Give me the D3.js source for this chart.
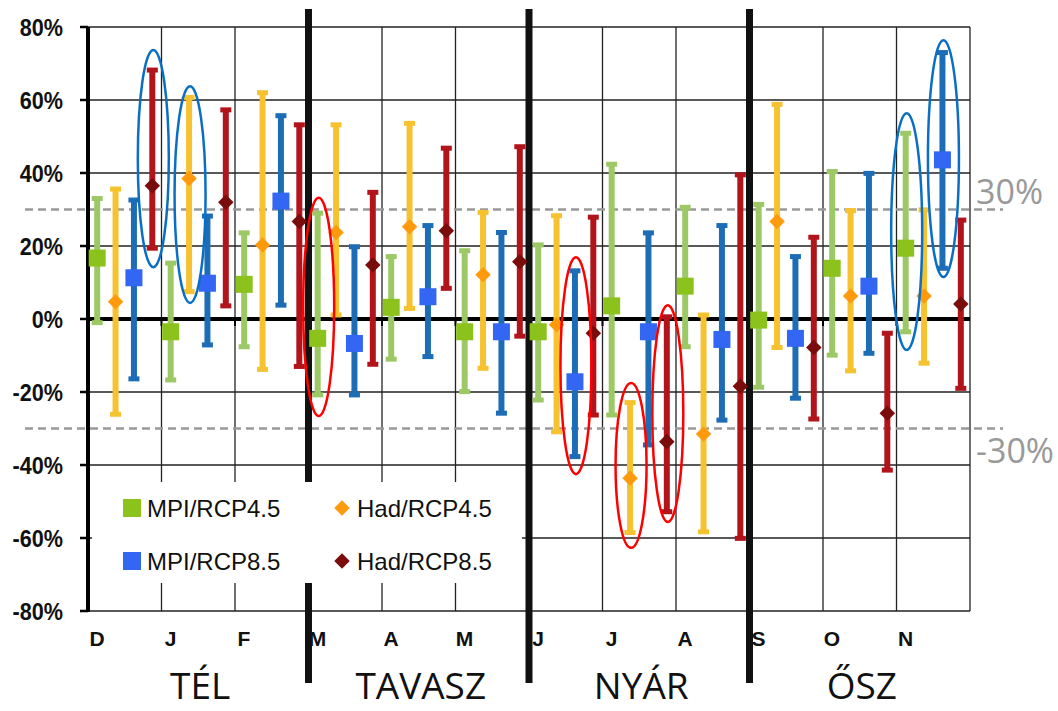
<!DOCTYPE html>
<html>
<head>
<meta charset="utf-8">
<script src="https://cdn.jsdelivr.net/npm/d3@7"></script>
<style>
  body { margin: 0; background: #fff; }
  svg { display: block; }
</style>
</head>
<body>
<svg id="chart"></svg>
<script>
const width = 1058;
const height = 711;

// month categories and seasons
const months = ['D', 'J', 'F', 'M', 'A', 'M', 'J', 'J', 'A', 'S', 'O', 'N'];
const seasons = ['TÉL', 'TAVASZ', 'NYÁR', 'ŐSZ'];
const yTicks = [80, 60, 40, 20, 0, -20, -40, -60, -80];
const thresholds = [30, -30];

// series (%)
const seriesNames = ['MPI/RCP4.5', 'Had/RCP4.5', 'MPI/RCP8.5', 'Had/RCP8.5'];

const mpi45Mid  = [16.7, -3.5, 9.5, -5.3, 3.2, -3.5, -3.5, 3.6, 9.0, -0.3, 13.9, 19.4];
const mpi45Low  = [-1.0, -16.7, -7.6, -20.8, -11.0, -19.9, -22.2, -26.3, -7.6, -18.7, -9.9, -3.5];
const mpi45High = [33.0, 15.3, 23.6, 29.0, 17.1, 18.7, 20.3, 42.4, 30.6, 31.4, 40.4, 50.9];

const had45Mid  = [4.7, 38.5, 20.3, 23.7, 25.3, 12.1, -1.6, -43.6, -31.5, 26.7, 6.3, 6.3];
const had45Low  = [-26.1, 7.5, -13.8, 1.1, 2.9, -13.5, -30.9, -58.5, -58.3, -7.8, -14.2, -12.1];
const had45High = [35.6, 60.7, 62.0, 53.2, 53.6, 29.2, 28.3, -22.9, 1.1, 58.8, 29.7, 29.9];

const mpi85Mid  = [11.3, 9.8, 32.3, -6.7, 6.1, -3.5, -17.2, -3.5, -5.6, -5.3, 9.0, 43.6];
const mpi85Low  = [-16.4, -7.1, 3.8, -20.8, -10.3, -25.8, -37.7, -34.5, -27.7, -21.7, -9.4, 13.9];
const mpi85High = [32.6, 28.2, 55.7, 19.8, 25.6, 23.7, 13.2, 23.6, 25.6, 17.1, 39.9, 73.0];

const had85Mid  = [36.5, 32.0, 26.7, 14.8, 24.2, 15.7, -3.9, -33.6, -18.4, -7.8, -25.8, 4.1];
const had85Low  = [19.4, 3.6, -13.0, -12.4, 8.4, -4.7, -26.3, -52.8, -60.1, -27.4, -41.4, -19.0];
const had85High = [68.2, 57.3, 53.2, 34.7, 46.8, 47.2, 27.9, 0.6, 39.5, 22.4, -3.9, 27.1];

// highlighted ranges (month index, series index, top %, bottom %, kind)
const highlightMonth  = [0, 1, 11, 11, 3, 6, 7, 7];
const highlightSeries = [3, 1, 0, 2, 0, 2, 1, 3];
const highlightTop    = [73.7, 63.8, 56.4, 76.4, 33.2, 16.9, -17.5, 3.8];
const highlightBottom = [14.2, 4.4, -8.5, 11.5, -26.6, -42.5, -62.7, -55.6];
const highlightKind   = ['blue', 'blue', 'blue', 'blue', 'red', 'red', 'red', 'red'];

const series = [
  {name: seriesNames[0], mid: mpi45Mid, low: mpi45Low, high: mpi45High, bar: '#9cc965', mark: '#8cc21c', shape: 'square'},
  {name: seriesNames[1], mid: had45Mid, low: had45Low, high: had45High, bar: '#f6c22f', mark: '#ff9a0c', shape: 'diamond'},
  {name: seriesNames[2], mid: mpi85Mid, low: mpi85Low, high: mpi85High, bar: '#1c6db5', mark: '#3366f2', shape: 'square'},
  {name: seriesNames[3], mid: had85Mid, low: had85Low, high: had85High, bar: '#b2141c', mark: '#7a0c0c', shape: 'diamond'}
];

const plotLeft = 88, plotRight = 970, plotTop = 27, plotBottom = 611;

const svg = d3.select('#chart').attr('width', width).attr('height', height);

const x = d3.scaleBand().domain(d3.range(months.length)).range([plotLeft, plotRight]);
const sub = d3.scaleBand().domain(d3.range(series.length)).range([0, x.bandwidth()]);
const y = d3.scaleLinear().domain([-80, 80]).range([plotBottom, plotTop]);
const seasonX = d3.scaleBand().domain(d3.range(seasons.length)).range([plotLeft, plotRight]);

const cx = (m, s) => x(m) + sub(s) + sub.bandwidth() / 2;

// grid
svg.append('g')
  .selectAll('line')
  .data(yTicks)
  .enter()
  .append('line')
  .attr('x1', plotLeft).attr('x2', plotRight)
  .attr('y1', d => y(d)).attr('y2', d => y(d))
  .attr('stroke', '#222').attr('stroke-width', 1.3);

svg.append('g')
  .selectAll('line')
  .data(d3.range(1, months.length + 1))
  .enter()
  .append('line')
  .attr('x1', d => x(0) + d * x.bandwidth()).attr('x2', d => x(0) + d * x.bandwidth())
  .attr('y1', plotTop).attr('y2', plotBottom)
  .attr('stroke', '#222').attr('stroke-width', 1.3);

// y axis ticks + labels
svg.append('g')
  .selectAll('line')
  .data(yTicks)
  .enter()
  .append('line')
  .attr('x1', plotLeft - 8).attr('x2', plotLeft)
  .attr('y1', d => y(d)).attr('y2', d => y(d))
  .attr('stroke', '#000').attr('stroke-width', 2.5);

svg.append('g')
  .selectAll('text')
  .data(yTicks)
  .enter()
  .append('text')
  .attr('transform', d => `translate(63, ${y(d) + 8.5}) scale(0.9, 1)`)
  .attr('text-anchor', 'end')
  .style('font', 'bold 24px "Liberation Sans", Arial, sans-serif')
  .attr('fill', '#111')
  .text(d => d + '%');

// small ticks under zero line
svg.append('g')
  .selectAll('line')
  .data(d3.range(1, months.length))
  .enter()
  .append('line')
  .attr('x1', d => x(d)).attr('x2', d => x(d))
  .attr('y1', y(0)).attr('y2', y(0) + 7)
  .attr('stroke', '#000').attr('stroke-width', 2);

// threshold dashed lines
svg.append('g')
  .selectAll('line')
  .data(thresholds)
  .enter()
  .append('line')
  .attr('x1', 25).attr('x2', 1003)
  .attr('y1', d => y(d)).attr('y2', d => y(d))
  .attr('stroke', '#999').attr('stroke-width', 2.4)
  .attr('stroke-dasharray', '8,5');

svg.append('g')
  .selectAll('text')
  .data(thresholds)
  .enter()
  .append('text')
  .attr('x', 976)
  .attr('y', d => d > 0 ? y(d) - 6 : y(d) + 34)
  .style('font', '34px "Open Sans", sans-serif')
  .attr('fill', '#999')
  .text(d => d + '%');

// axes
svg.append('line')
  .attr('x1', plotLeft).attr('x2', plotLeft).attr('y1', plotTop).attr('y2', plotBottom + 1)
  .attr('stroke', '#000').attr('stroke-width', 4);
svg.append('line')
  .attr('x1', plotLeft).attr('x2', plotRight).attr('y1', y(0)).attr('y2', y(0))
  .attr('stroke', '#000').attr('stroke-width', 4);

// season separators
svg.append('g')
  .selectAll('line')
  .data(d3.range(1, seasons.length))
  .enter()
  .append('line')
  .attr('x1', d => seasonX(d)).attr('x2', d => seasonX(d))
  .attr('y1', 9).attr('y2', 683)
  .attr('stroke', '#111').attr('stroke-width', 7);

// legend box
svg.append('rect')
  .attr('x', 92).attr('y', 482).attr('width', 430).attr('height', 101)
  .attr('fill', '#fff');

// error bars
series.forEach((s, si) => {
  const g = svg.append('g');
  g.selectAll('.bar')
    .data(months.map((m, i) => i))
    .enter()
    .append('line')
    .attr('x1', i => cx(i, si)).attr('x2', i => cx(i, si))
    .attr('y1', i => y(s.high[i])).attr('y2', i => y(s.low[i]))
    .attr('stroke', s.bar).attr('stroke-width', 6);

  ['high', 'low'].forEach(k => {
    g.selectAll('.cap-' + k)
      .data(months.map((m, i) => i))
      .enter()
      .append('rect')
      .attr('x', i => cx(i, si) - 5.5)
      .attr('y', i => y(s[k][i]) - 2.5)
      .attr('width', 11).attr('height', 5)
      .attr('fill', s.bar);
  });

  g.selectAll('.mark')
    .data(months.map((m, i) => i))
    .enter()
    .append('rect')
    .attr('x', s.shape === 'square' ? -8.5 : -5.5)
    .attr('y', s.shape === 'square' ? -8.5 : -5.5)
    .attr('width', s.shape === 'square' ? 17 : 11)
    .attr('height', s.shape === 'square' ? 17 : 11)
    .attr('transform', i => s.shape === 'square'
      ? `translate(${cx(i, si)}, ${y(s.mid[i])})`
      : `translate(${cx(i, si)}, ${y(s.mid[i])}) rotate(45)`)
    .attr('fill', s.mark);
});

// highlight ellipses
svg.append('g')
  .selectAll('ellipse')
  .data(d3.range(highlightMonth.length))
  .enter()
  .append('ellipse')
  .attr('cx', i => cx(highlightMonth[i], highlightSeries[i]) + 1)
  .attr('cy', i => (y(highlightTop[i]) + y(highlightBottom[i])) / 2)
  .attr('rx', 15.5)
  .attr('ry', i => (y(highlightBottom[i]) - y(highlightTop[i])) / 2)
  .attr('fill', 'none')
  .attr('stroke', i => highlightKind[i] === 'blue' ? '#0a6fc4' : '#ff0000')
  .attr('stroke-width', 2.5);

// legend
const legendPos = [[123, 508], [333, 508], [123, 561], [333, 561]];
const legend = svg.append('g')
  .selectAll('g')
  .data(series)
  .enter()
  .append('g')
  .attr('transform', (d, i) => `translate(${legendPos[i][0]}, ${legendPos[i][1]})`);

legend.append('rect')
  .attr('x', d => d.shape === 'square' ? 0 : 9 - 5.5)
  .attr('y', d => d.shape === 'square' ? -9 : -5.5)
  .attr('width', d => d.shape === 'square' ? 18 : 11)
  .attr('height', d => d.shape === 'square' ? 18 : 11)
  .attr('transform', d => d.shape === 'square' ? null : 'rotate(45, 9, 0)')
  .attr('fill', d => d.mark);

legend.append('text')
  .attr('x', 24)
  .attr('y', 8.5)
  .style('font', '24px "Liberation Sans", Arial, sans-serif')
  .attr('fill', '#111')
  .text(d => d.name);

// month labels
svg.append('g')
  .selectAll('text')
  .data(months)
  .enter()
  .append('text')
  .attr('x', (d, i) => x(i) + 9)
  .attr('y', 646)
  .attr('text-anchor', 'middle')
  .style('font', 'bold 21px "Liberation Sans", Arial, sans-serif')
  .attr('fill', '#111')
  .text(d => d);

// season labels
svg.append('g')
  .selectAll('text')
  .data(seasons)
  .enter()
  .append('text')
  .attr('x', (d, i) => seasonX(i) + seasonX.bandwidth() / 2 + 2)
  .attr('y', 699)
  .attr('text-anchor', 'middle')
  .style('font', '37px "Open Sans", sans-serif')
  .attr('fill', '#111')
  .text(d => d);
</script>
</body>
</html>
